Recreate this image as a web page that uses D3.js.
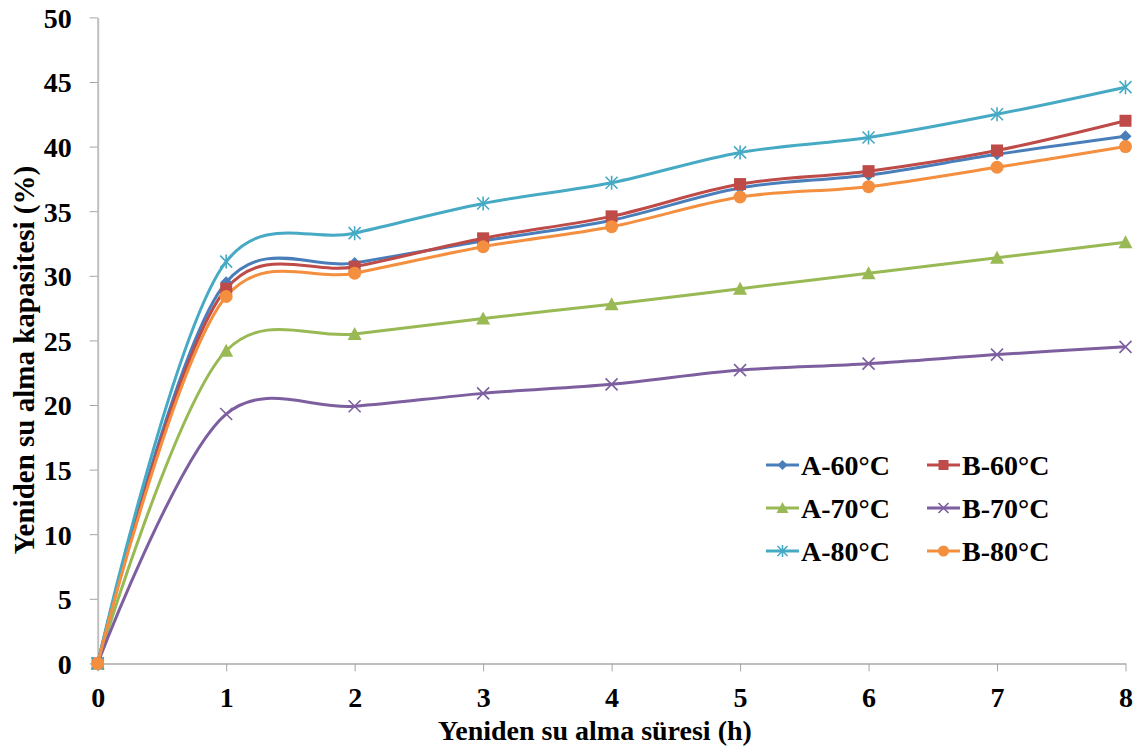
<!DOCTYPE html>
<html>
<head>
<meta charset="utf-8">
<script src="https://cdn.jsdelivr.net/npm/d3@7"></script>
<style>
  body { margin: 0; background: #fff; }
  svg text { font-family: "Liberation Serif", "Times New Roman", serif; font-weight: bold; fill: #000; }
</style>
</head>
<body>
<div id="chart"></div>
<script>
// hours
var hours = [0, 1, 2, 3, 4, 5, 6, 7, 8];

// rehydration capacity (%) per sample
var a60 = [0, 29.5, 31.0, 32.7, 34.3, 36.8, 37.8, 39.4, 40.8];
var b60 = [0, 29.0, 30.7, 32.9, 34.6, 37.1, 38.1, 39.7, 42.0];
var a70 = [0, 24.2, 25.5, 26.7, 27.8, 29.0, 30.2, 31.4, 32.6];
var b70 = [0, 19.3, 19.9, 20.9, 21.6, 22.7, 23.2, 23.9, 24.5];
var a80 = [0, 31.1, 33.3, 35.6, 37.2, 39.55, 40.7, 42.5, 44.6];
var b80 = [0, 28.4, 30.2, 32.25, 33.8, 36.1, 36.9, 38.4, 40.0];

var yTicks = [0, 5, 10, 15, 20, 25, 30, 35, 40, 45, 50];

var series = [
    {name: "A-60\u00b0C", values: a60, color: "#4a7ebb", marker: "diamond"},
    {name: "B-60\u00b0C", values: b60, color: "#be4b48", marker: "square"},
    {name: "A-70\u00b0C", values: a70, color: "#98b954", marker: "triangle"},
    {name: "B-70\u00b0C", values: b70, color: "#7d5fa0", marker: "x"},
    {name: "A-80\u00b0C", values: a80, color: "#46aac5", marker: "star"},
    {name: "B-80\u00b0C", values: b80, color: "#f38f3e", marker: "circle"}
];

var width = 1147, height = 752;
var svg = d3.select("#chart").append("svg")
    .attr("width", width)
    .attr("height", height);

var x = d3.scaleLinear().domain([0, 8]).range([97.7, 1125.5]);
var y = d3.scaleLinear().domain([0, 50]).range([663.4, 17.4]);

// axes
var xAxis = svg.append("g")
    .attr("transform", "translate(0," + y(0) + ")")
    .call(d3.axisBottom(x).tickValues(hours).tickSize(8).tickPadding(16).tickSizeOuter(0));
var yAxis = svg.append("g")
    .attr("transform", "translate(" + x(0) + ",0)")
    .call(d3.axisLeft(y).tickValues(yTicks).tickSize(8).tickPadding(18).tickSizeOuter(0));

[xAxis, yAxis].forEach(function(g) {
    g.select(".domain").attr("stroke", "#bfbfbf").attr("stroke-width", 2);
    g.selectAll(".tick line").attr("stroke", "#a6a6a6").attr("stroke-width", 1);
    g.selectAll(".tick text").style("font-size", "28px");
});
xAxis.selectAll(".tick text").attr("dy", "0.71em");
yAxis.selectAll(".tick text").attr("dy", "0.35em");

svg.append("text")
    .attr("x", 595)
    .attr("y", 740)
    .attr("text-anchor", "middle")
    .style("font-size", "28px")
    .text("Yeniden su alma süresi (h)");

svg.append("text")
    .attr("transform", "translate(34,360) rotate(-90)")
    .attr("text-anchor", "middle")
    .style("font-size", "29px")
    .text("Yeniden su alma kapasitesi (%)");

function drawMarker(g, type, color, s) {
    if (type === "diamond") {
        g.append("path").attr("d", "M0,-" + s + "L" + s + ",0L0," + s + "L-" + s + ",0Z").attr("fill", color);
    } else if (type === "square") {
        g.append("rect").attr("x", -s).attr("y", -s).attr("width", 2 * s).attr("height", 2 * s).attr("fill", color);
    } else if (type === "triangle") {
        g.append("path").attr("d", "M0,-" + (s + 1) + "L" + (s + 1) + "," + s + "L-" + (s + 1) + "," + s + "Z").attr("fill", color);
    } else if (type === "circle") {
        g.append("circle").attr("r", s + 0.5).attr("fill", color);
    } else if (type === "x") {
        g.append("path").attr("d", "M-" + s + ",-" + s + "L" + s + "," + s + "M" + s + ",-" + s + "L-" + s + "," + s)
            .attr("stroke", color).attr("stroke-width", 1.6).attr("fill", "none");
    } else if (type === "star") {
        g.append("path").attr("d", "M-" + s + ",-" + s + "L" + s + "," + s + "M" + s + ",-" + s + "L-" + s + "," + s + "M0,-" + (s + 1) + "L0," + (s + 1))
            .attr("stroke", color).attr("stroke-width", 1.6).attr("fill", "none");
    }
}

var line = d3.line()
    .x(function(d, i) { return x(hours[i]); })
    .y(function(d) { return y(d); })
    .curve(d3.curveCatmullRom.alpha(0.25));

series.forEach(function(s) {
    svg.append("path")
        .attr("d", line(s.values))
        .attr("fill", "none")
        .attr("stroke", s.color)
        .attr("stroke-width", 3);
});

series.forEach(function(s) {
    s.values.forEach(function(v, i) {
        var g = svg.append("g").attr("transform", "translate(" + x(hours[i]) + "," + y(v) + ")");
        drawMarker(g, s.marker, s.color, 6);
    });
});

// legend
var legend = svg.append("g");
series.forEach(function(s, i) {
    var col = i % 2, row = Math.floor(i / 2);
    var lx = 766 + col * 161, ly = 465 + row * 43;
    var g = legend.append("g").attr("transform", "translate(" + lx + "," + ly + ")");
    g.append("line").attr("x1", 0).attr("x2", 33).attr("y1", 0).attr("y2", 0)
        .attr("stroke", s.color).attr("stroke-width", 3);
    drawMarker(g.append("g").attr("transform", "translate(16.5,0)"), s.marker, s.color, 5);
    g.append("text").attr("x", 35).attr("y", 0).attr("dy", "0.35em")
        .style("font-size", "28px").text(s.name);
});
</script>
</body>
</html>
